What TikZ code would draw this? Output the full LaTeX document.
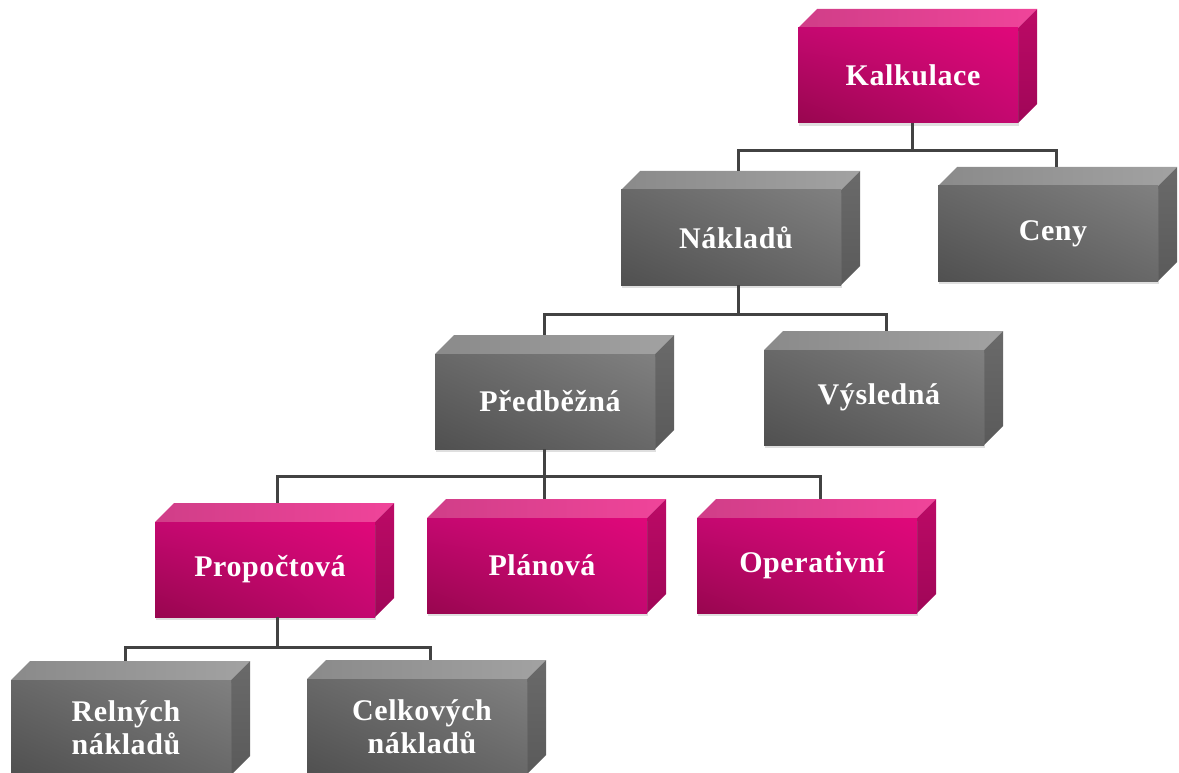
\documentclass[tikz,border=0pt]{standalone}
\usepackage{fontspec}
\setmainfont{Liberation Serif}
\newfontfamily\boxfont[LetterSpace=2]{Liberation Serif}
\usetikzlibrary{shadows,calc,shadings}
\definecolor{mA}{HTML}{E0087A}
\definecolor{mB}{HTML}{C40870}
\definecolor{mC}{HTML}{98064F}
\definecolor{mTopL}{HTML}{D03E88}
\definecolor{mTopR}{HTML}{F0449A}
\definecolor{mSideT}{HTML}{BC0A66}
\definecolor{mSideB}{HTML}{A00658}
\definecolor{gA}{HTML}{808080}
\definecolor{gB}{HTML}{686868}
\definecolor{gC}{HTML}{505050}
\definecolor{gTopL}{HTML}{8A8A8A}
\definecolor{gTopR}{HTML}{A2A2A2}
\definecolor{gSideT}{HTML}{6A6A6A}
\definecolor{gSideB}{HTML}{5A5A5A}
\definecolor{connc}{HTML}{424242}
\newcommand\cubebox[5]{%
  % #1 name, #2 x1, #3 y1, #4 kind (m/g), #5 text
  \shade[left color=#4TopL, right color=#4TopR]
    (#2,#3) -- ++(19,-19) -- ++(220,0) -- ++(-19,19) -- cycle;
  \shade[top color=#4SideT, bottom color=#4SideB]
    (#2+220,#3) -- ++(19,-19) -- ++(0,95) -- ++(-19,19) -- cycle;
  \node[frontbox, upper right=#4A, lower left=#4C, upper left=#4B, lower right=#4B]
    (#1) at (#2+110,#3+47.5) {};
  \node[lbl] (#1-t) at ([xshift=5pt]#1.center) {#5};
}
\begin{document}
\begin{tikzpicture}[x=1pt,y=-1pt,
  frontbox/.style={shade, minimum width=220pt, minimum height=95pt, inner sep=0pt,
    drop shadow={shadow xshift=1pt, shadow yshift=-3pt, opacity=0.25}},
  lbl/.style={text=white, font=\boxfont\bfseries\fontsize{30}{33}\selectfont,
    align=center, inner sep=0pt},
  conn/.style={draw=connc, line width=3pt}]
\useasboundingbox (0,0) rectangle (1179,773);

% boxes
\cubebox{K}{798}{28}{m}{Kalkulace}
\cubebox{N}{621}{190}{g}{Nákladů}
\cubebox{C}{938}{186}{g}{Ceny}
\cubebox{P}{435}{354}{g}{Předběžná}
\cubebox{V}{764}{350}{g}{Výsledná}
\cubebox{Pr}{155}{522}{m}{Propočtová}
\cubebox{Pl}{427}{518}{m}{Plánová}
\cubebox{O}{697}{518}{m}{Operativní}
\cubebox{R}{11}{680}{g}{Relných\\nákladů}
\cubebox{Ce}{307}{679}{g}{Celkových\\nákladů}

% connector points
\coordinate (K-out) at ([xshift=4pt]K.south);
\coordinate (K-bus) at ([yshift=-27pt]K-out);
\coordinate (N-in) at ([xshift=7pt,yshift=19pt]N.north);
\coordinate (C-in) at ([xshift=8pt,yshift=19pt]C.north);
\coordinate (N-out) at ([xshift=7pt]N.south);
\coordinate (N-bus) at ([yshift=-29pt]N-out);
\coordinate (P-in) at ([xshift=-1pt,yshift=19pt]P.north);
\coordinate (V-in) at ([xshift=12pt,yshift=19pt]V.north);
\coordinate (P-out) at ([xshift=-1pt]P.south);
\coordinate (P-bus) at ([yshift=-27pt]P-out);
\coordinate (Pr-in) at ([xshift=12pt,yshift=19pt]Pr.north);
\coordinate (Pl-in) at ([xshift=7pt,yshift=19pt]Pl.north);
\coordinate (O-in) at ([xshift=13pt,yshift=19pt]O.north);
\coordinate (Pr-out) at ([xshift=12pt]Pr.south);
\coordinate (Pr-bus) at ([yshift=-30pt]Pr-out);
\coordinate (R-in) at ([xshift=4pt,yshift=19pt]R.north);
\coordinate (Ce-in) at ([xshift=13pt,yshift=19pt]Ce.north);

% connectors
\draw[conn] (K-out) -- (K-bus);
\draw[conn] (N-in) |- (K-bus) -| (C-in);
\draw[conn] (N-out) -- (N-bus);
\draw[conn] (P-in) |- (N-bus) -| (V-in);
\draw[conn] (P-out) -- (Pl-in);
\draw[conn] (Pr-in) |- (P-bus) -| (O-in);
\draw[conn] (Pr-out) -- (Pr-bus);
\draw[conn] (R-in) |- (Pr-bus) -| (Ce-in);
\end{tikzpicture}
\end{document}
